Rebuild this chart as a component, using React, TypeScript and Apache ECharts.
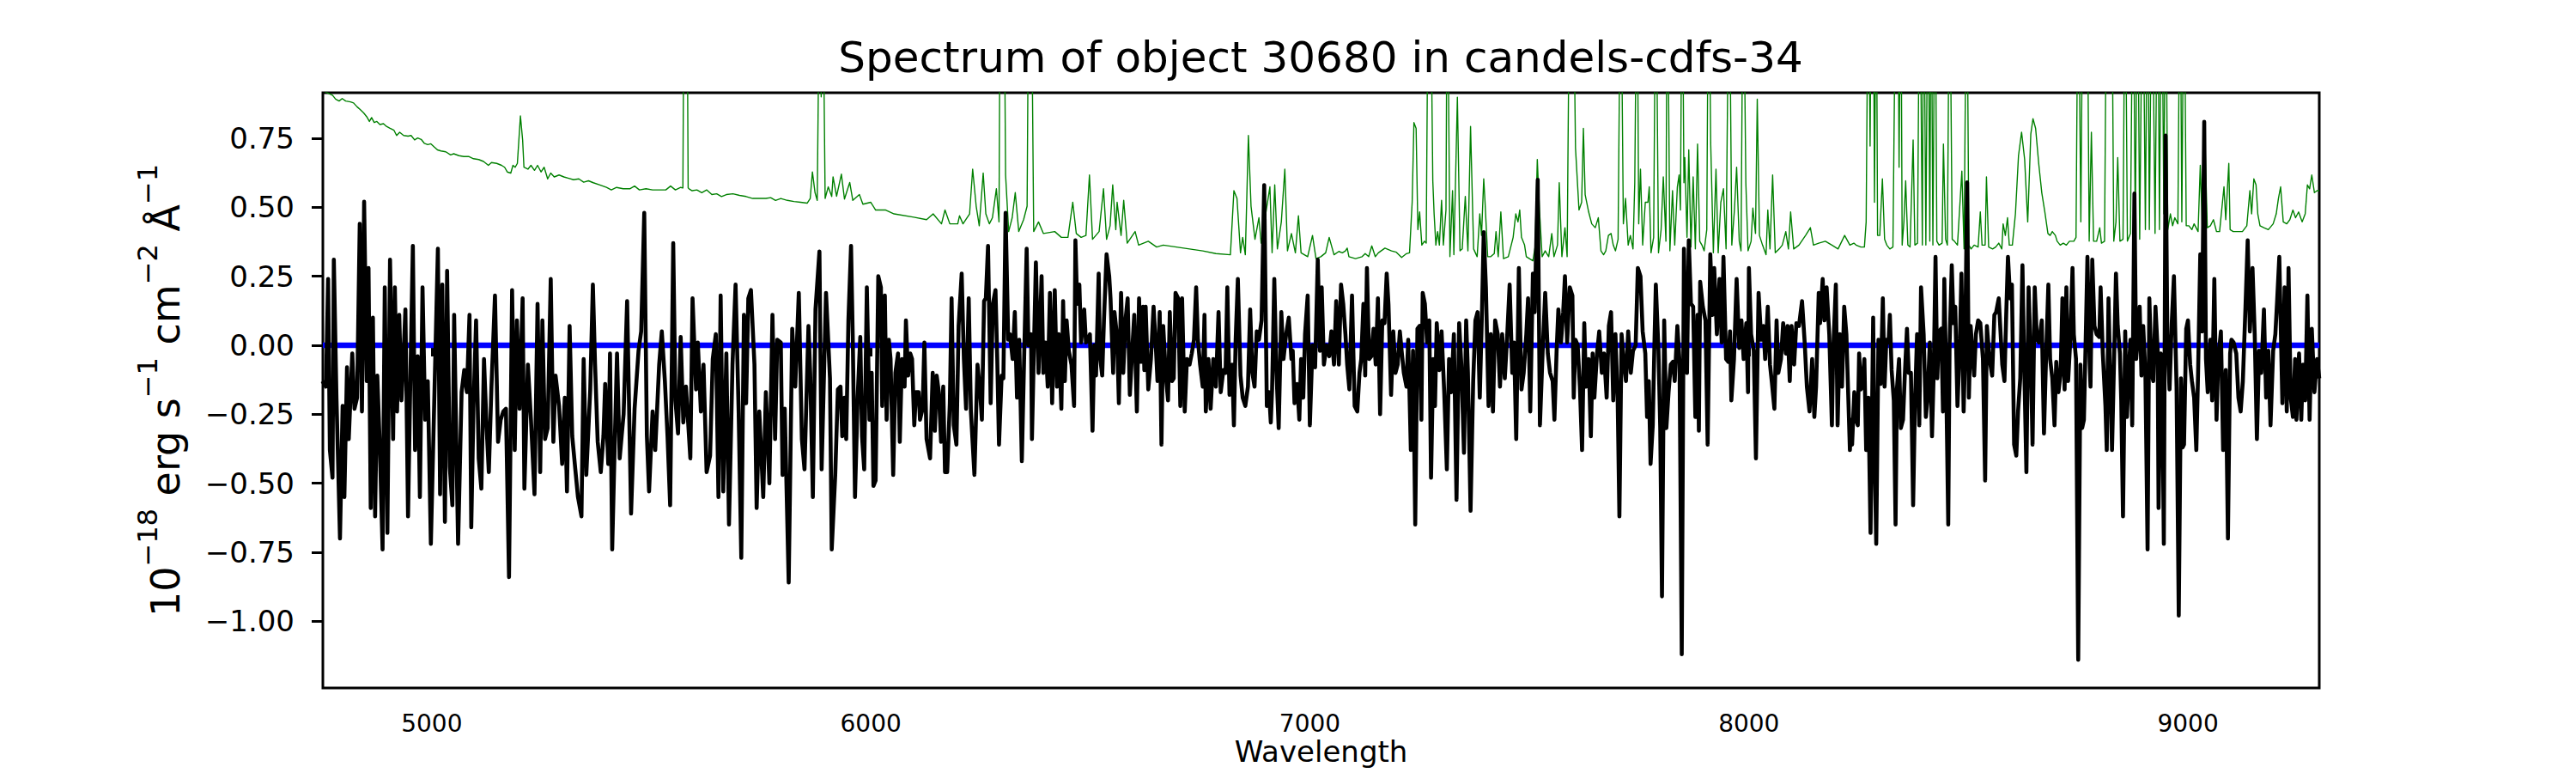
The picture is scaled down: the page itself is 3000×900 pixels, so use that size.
import React, { useEffect, useRef } from "react";
import * as echarts from "echarts";

const TITLE = "Spectrum of object 30680 in candels-cdfs-34";
const X_LABEL = "Wavelength";
const Y_LABEL = "{b|10}{s|−18}{b| erg s}{s|−1}{b| cm}{s|−2}{b| Å}{s|−1}";
const X_TICKS = [5000, 6000, 7000, 8000, 9000];
const Y_TICKS = [-1.0, -0.75, -0.5, -0.25, 0, 0.25, 0.5, 0.75];
const X_RANGE = [4752, 9299];
const Y_RANGE = [-1.242, 0.915];
const ZERO_LEVEL = 0;

// Object flux (black), [wavelength, flux]
const FLUX_A: [number, number][] = [
  [4751,-0.13],[4759,-0.15],[4764,0.24],[4768,-0.38],[4774,-0.48],[4777,0.31],[4783,-0.19],[4791,-0.70],[4797,-0.22],[4801,-0.55],
  [4807,-0.08],[4811,-0.34],[4819,-0.03],[4824,-0.23],[4830,-0.19],[4836,0.44],[4841,-0.24],[4846,0.52],[4852,-0.13],[4856,0.28],
  [4861,-0.59],[4866,0.10],[4871,-0.62],[4876,-0.11],[4882,-0.38],[4888,-0.74],[4893,0.21],[4899,-0.68],[4905,0.31],[4912,-0.34],
  [4916,0.21],[4921,-0.24],[4926,0.11],[4931,-0.20],[4936,-0.03],[4940,0.13],[4946,-0.62],[4951,-0.15],[4957,0.36],[4962,-0.38],
  [4968,-0.04],[4973,-0.55],[4979,0.21],[4985,-0.27],[4991,-0.13],[4998,-0.72],[5008,-0.05],[5014,0.35],[5019,-0.54],[5024,0.22],
  [5030,-0.64],[5035,0.27],[5041,-0.44],[5047,-0.58],[5051,0.11],[5060,-0.72],[5068,-0.17],[5074,-0.09],[5080,-0.17],[5086,0.11],
  [5090,-0.66],[5095,-0.23],[5101,0.09],[5107,-0.41],[5113,-0.52],[5119,-0.05],[5125,-0.30],[5130,-0.46],[5136,-0.15],[5144,0.18],
  [5151,-0.35],[5157,-0.27],[5163,-0.24],[5169,-0.23],[5176,-0.84],[5183,0.20],[5189,-0.38],[5194,0.09],[5200,-0.23],[5207,0.17],
  [5211,-0.52],[5219,-0.07],[5226,-0.27],[5234,-0.54],[5241,0.15],[5247,-0.46],[5252,0.09],[5258,-0.34],[5264,-0.30],[5271,0.24],
  [5277,-0.35],[5282,-0.11],[5290,-0.22],[5297,-0.43],[5303,-0.19],[5308,-0.53],[5314,0.07],[5320,-0.33],[5327,-0.45],[5333,-0.55],
  [5341,-0.62],[5346,-0.05],[5352,-0.47],[5361,-0.16],[5367,0.22],[5372,-0.07],[5378,-0.35],[5385,-0.46],[5391,-0.33],[5395,-0.14],
  [5402,-0.43],[5406,-0.03],[5411,-0.74],[5417,-0.34],[5422,-0.03],[5428,-0.41],[5437,-0.25],[5445,0.16],[5454,-0.61],[5462,-0.23],
  [5471,-0.02],[5477,0.05],[5484,0.48],[5490,-0.33],[5495,-0.53],[5503,-0.24],[5509,-0.38],[5518,-0.07],[5524,0.05],[5531,-0.13],
  [5537,-0.33],[5543,-0.58],[5550,0.37],[5555,-0.20],[5561,-0.32],[5567,0.03],[5573,-0.28],[5579,-0.15],[5589,-0.41],[5594,0.17],
  [5602,-0.16],[5606,0.01],[5613,-0.24],[5619,-0.07],[5626,-0.46],[5634,-0.40],[5640,-0.05],[5647,0.04],[5653,-0.55],[5658,0.18],
  [5664,-0.53],[5671,-0.03],[5677,-0.65],[5685,-0.07],[5692,0.22],[5699,-0.24],[5705,-0.77],[5711,0.11],[5716,-0.21],[5721,0.17],
  [5727,0.20],[5735,-0.07],[5740,-0.59],[5746,-0.24],[5755,-0.55],[5761,-0.17],[5769,-0.50],[5776,0.11],[5782,-0.34],[5787,0.02],
  [5795,0.01],[5799,-0.47],[5804,-0.23],[5813,-0.86],[5821,0.06],[5828,-0.15],[5836,0.19],[5843,-0.34],[5849,-0.45],[5858,0.07],
  [5862,-0.10],[5868,-0.55],[5874,0.13],[5883,0.34],[5888,-0.45],[5898,0.19],[5907,-0.12],[5911,-0.74],
];
const FLUX_B: [number, number][] = [
  [5919,-0.47],[5925,-0.16],[5931,-0.15],[5935,-0.33],[5940,-0.19],[5944,-0.34],[5949,0.09],[5955,0.36],[5959,0.02],[5964,-0.55],
  [5970,-0.19],[5976,0.03],[5980,-0.33],[5985,-0.45],[5991,0.21],[5997,-0.27],[6002,-0.10],[6006,-0.51],[6011,-0.49],[6017,0.25],
  [6023,0.21],[6026,-0.22],[6032,0.18],[6036,-0.27],[6041,0.02],[6045,-0.05],[6051,-0.47],[6056,-0.10],[6062,-0.03],[6066,-0.35],
  [6071,-0.05],[6077,-0.15],[6080,0.09],[6085,-0.11],[6090,-0.03],[6094,-0.05],[6099,-0.29],[6103,-0.17],[6109,-0.17],[6112,-0.27],
  [6118,-0.23],[6122,0.01],[6127,-0.34],[6135,-0.41],[6141,-0.10],[6146,-0.31],[6150,-0.11],[6155,-0.17],[6160,-0.35],[6165,-0.15],
  [6169,-0.46],[6174,-0.46],[6180,-0.21],[6184,0.17],[6189,-0.29],[6195,-0.36],[6200,0.07],[6207,0.26],[6212,-0.05],[6217,-0.23],
  [6223,0.17],[6228,-0.24],[6236,-0.47],[6243,-0.07],[6249,-0.17],[6253,-0.27],[6258,0.16],[6262,0.17],[6267,0.36],[6273,-0.21],
  [6278,0.15],[6284,0.20],[6288,-0.05],[6292,-0.36],[6298,-0.11],[6302,-0.12],[6307,0.48],[6313,0.02],[6317,0.04],[6323,-0.05],
  [6328,0.12],[6333,-0.19],[6338,0.02],[6344,-0.42],[6350,0.01],[6355,0.35],[6359,0.00],[6365,0.04],[6367,-0.34],[6371,-0.05],
  [6376,0.30],[6382,-0.10],[6389,0.25],[6393,-0.10],[6398,0.01],[6403,-0.15],[6408,0.19],[6413,-0.21],[6419,0.20],[6424,-0.15],
  [6428,0.04],[6434,-0.23],[6438,0.16],[6442,-0.13],[6446,0.09],[6451,-0.02],[6457,-0.07],[6463,-0.22],[6466,0.38],[6470,0.15],
  [6475,0.22],[6479,0.01],[6486,0.13],[6490,0.01],[6495,0.02],[6499,0.04],[6505,-0.31],[6509,0.00],[6513,-0.11],[6519,0.26],
  [6522,-0.04],[6527,-0.11],[6531,0.09],[6537,0.33],[6543,0.25],[6546,0.17],[6552,-0.10],[6555,0.12],[6561,0.03],[6565,-0.21],
  [6570,0.19],[6575,-0.10],[6580,0.09],[6585,0.17],[6590,-0.18],[6595,-0.03],[6600,0.11],[6606,-0.24],[6611,0.17],[6615,-0.06],
  [6620,0.14],[6623,-0.09],[6626,0.14],[6632,-0.16],[6638,-0.05],[6644,0.14],[6649,0.00],[6653,-0.13],[6658,0.12],[6662,-0.36],
  [6666,0.07],[6670,-0.05],[6673,-0.13],[6677,-0.20],[6681,0.12],[6686,-0.13],[6690,-0.12],[6694,0.19],[6700,0.17],[6705,-0.22],
  [6709,0.17],[6715,-0.24],[6720,-0.05],[6726,-0.07],[6731,-0.03],[6736,0.02],[6741,0.21],[6745,0.02],[6750,-0.07],[6756,-0.15],
  [6760,0.11],[6763,-0.24],[6769,-0.05],[6774,-0.23],[6780,-0.05],[6786,-0.15],[6792,0.12],[6797,-0.17],[6803,-0.09],[6808,-0.10],
  [6812,0.21],[6817,-0.18],[6823,-0.07],[6827,-0.29],[6831,0.02],[6836,0.24],[6842,-0.11],[6847,-0.19],[6853,-0.22],[6859,-0.15],
  [6864,0.13],[6869,-0.10],[6874,-0.15],[6879,0.05],[6884,0.02],[6890,0.09],[6896,0.58],[6902,-0.22],[6907,-0.17],[6911,-0.28],
  [6914,-0.16],[6919,0.24],[6924,-0.10],[6929,-0.30],[6935,0.12],[6940,-0.05],[6946,0.04],[6952,0.10],[6958,-0.05],[6961,-0.02],
  [6965,-0.21],[6971,-0.14],[6976,-0.27],[6980,-0.05],[6985,-0.19],[6989,0.04],[6995,0.18],[7000,-0.29],[7006,0.00],[7012,-0.08],
  [7018,0.31],[7023,-0.02],[7027,0.21],[7032,-0.07],[7038,0.00],[7044,-0.04],[7049,0.05],[7055,-0.07],[7060,0.16],[7066,-0.07],
  [7071,0.22],[7076,0.15],
];
const FLUX_C: [number, number][] = [
  [7081,0.04],[7085,-0.07],[7090,-0.16],[7096,0.18],[7102,-0.22],[7108,-0.24],[7113,-0.10],[7117,-0.05],[7122,0.15],[7126,-0.11],
  [7130,0.28],[7135,-0.05],[7140,-0.04],[7145,0.06],[7150,-0.07],[7155,0.17],[7160,-0.25],[7165,0.09],[7170,0.08],[7175,0.26],
  [7179,0.15],[7185,-0.18],[7190,0.05],[7195,-0.10],[7200,-0.07],[7205,0.05],[7209,-0.02],[7214,-0.10],[7220,-0.15],[7224,0.02],
  [7230,-0.38],[7235,-0.02],[7240,-0.65],[7245,0.06],[7250,0.07],[7254,-0.27],[7257,0.19],[7262,0.15],[7267,0.01],[7272,0.09],
  [7276,-0.48],[7281,-0.05],[7285,-0.22],[7289,0.08],[7295,-0.09],[7300,0.05],[7306,-0.17],[7312,-0.45],[7317,-0.05],[7322,-0.17],
  [7328,0.04],[7334,-0.56],[7340,0.08],[7345,-0.07],[7351,-0.39],[7356,0.09],[7360,-0.10],[7366,-0.60],[7372,-0.13],[7377,0.09],
  [7382,0.12],[7387,-0.19],[7392,0.12],[7396,0.41],[7401,0.21],[7407,-0.22],[7412,0.04],[7417,-0.24],[7422,0.09],[7428,0.04],
  [7433,-0.15],[7438,0.04],[7444,-0.12],[7449,0.02],[7455,0.22],[7461,-0.10],[7465,0.01],[7470,-0.34],[7476,0.28],[7482,-0.16],
  [7487,-0.10],[7493,0.04],[7497,0.17],[7502,-0.24],[7508,0.26],[7512,0.12],[7519,0.60],[7524,-0.29],[7530,-0.03],[7536,0.19],
  [7542,-0.03],[7547,-0.10],[7553,-0.13],[7557,-0.27],[7562,-0.02],[7566,0.13],[7572,0.01],[7577,0.12],[7581,0.25],[7586,0.01],
  [7592,0.21],[7598,0.18],[7601,-0.19],[7605,0.02],[7610,0.00],[7615,-0.15],[7620,-0.38],[7625,0.08],[7629,-0.15],[7635,-0.05],
  [7640,-0.33],[7644,-0.03],[7648,-0.19],[7654,-0.03],[7659,0.05],[7665,-0.10],[7670,-0.03],[7676,-0.19],[7681,0.07],[7686,0.12],
  [7691,-0.20],[7696,0.04],[7701,-0.19],[7705,-0.62],[7710,0.04],[7715,-0.06],[7720,-0.13],[7725,0.05],[7731,-0.10],[7736,-0.02],
  [7742,0.00],[7747,0.28],[7753,0.25],[7758,0.05],[7764,-0.03],[7768,-0.26],[7772,-0.13],[7776,-0.43],[7781,-0.29],[7785,0.02],
  [7788,0.22],[7794,-0.02],[7798,-0.30],[7802,-0.91],[7807,0.09],[7812,-0.30],[7817,-0.17],[7822,-0.07],[7827,-0.06],[7831,-0.13],
  [7837,0.07],[7842,-0.06],[7847,-1.12],[7852,0.35],[7856,0.02],[7859,-0.10],[7863,0.38],[7868,0.15],[7873,0.14],[7878,-0.26],
  [7883,0.11],[7886,-0.31],[7889,0.23],[7895,0.14],[7901,0.09],[7906,-0.36],[7912,0.33],[7917,0.11],[7921,0.28],[7927,0.04],
  [7933,0.24],[7938,0.01],[7942,0.32],[7948,-0.05],[7953,-0.06],[7957,0.05],[7960,-0.20],[7966,-0.05],[7972,0.24],[7978,-0.01],
  [7983,0.09],[7988,-0.05],[7994,0.08],[7998,-0.17],[8000,0.28],[8005,0.04],[8011,-0.02],[8016,-0.41],[8022,0.19],[8028,0.02],
  [8033,0.07],[8037,-0.05],[8043,0.14],[8048,-0.07],[8052,-0.13],[8058,-0.23],[8063,0.09],[8067,-0.10],[8073,-0.05],[8078,0.08],
  [8084,-0.03],[8088,0.07],[8093,-0.13],[8097,0.07],[8103,-0.07],[8108,0.08],[8114,0.07],[8121,0.16],[8127,0.01],[8132,-0.15],
  [8138,-0.24],[8144,-0.05],[8149,-0.26],[8153,-0.15],[8159,0.19],[8162,0.08],[8168,0.24],[8172,0.09],[8177,0.21],[8183,0.04],
  [8189,-0.29],[8192,-0.02],[8198,0.22],[8202,-0.29],[8207,0.04],[8212,-0.15],[8217,0.14],[8222,0.04],[8230,-0.38],
];
const FLUX_D: [number, number][] = [
  [8233,-0.27],[8235,-0.36],[8240,-0.17],[8244,-0.27],[8248,-0.29],[8251,-0.03],[8255,-0.16],[8258,-0.15],[8263,-0.05],[8267,-0.38],
  [8272,-0.19],[8277,-0.68],[8283,0.10],[8286,-0.38],[8290,-0.72],[8295,0.02],[8300,-0.14],[8305,0.17],[8309,-0.15],[8313,0.02],
  [8318,0.01],[8321,0.11],[8325,-0.09],[8330,-0.20],[8334,-0.65],[8337,-0.16],[8342,-0.05],[8346,-0.30],[8351,-0.27],[8355,-0.11],
  [8360,0.06],[8364,-0.10],[8369,-0.10],[8374,-0.58],[8378,-0.22],[8383,0.04],[8388,-0.29],[8392,0.21],[8398,0.04],[8403,-0.26],
  [8407,-0.19],[8412,0.01],[8417,-0.33],[8421,-0.09],[8425,0.32],[8429,-0.12],[8433,0.05],[8438,0.06],[8442,-0.24],[8445,0.24],
  [8449,-0.09],[8454,-0.65],[8457,0.00],[8462,0.29],[8466,0.08],[8470,0.14],[8475,-0.22],[8480,-0.02],[8484,0.26],[8489,-0.24],
  [8492,-0.06],[8497,0.59],[8501,-0.19],[8505,0.07],[8510,-0.05],[8513,-0.11],[8517,0.04],[8522,0.09],[8527,0.08],[8533,-0.05],
  [8538,-0.49],[8542,0.07],[8548,-0.05],[8554,-0.11],[8559,0.11],[8563,0.12],[8569,0.17],[8574,0.02],[8577,-0.07],[8582,-0.13],
  [8586,0.11],[8590,0.32],[8595,0.17],[8599,0.22],[8604,-0.36],[8609,-0.40],[8613,-0.24],[8618,-0.12],[8623,0.29],[8627,-0.07],
  [8632,-0.46],[8637,0.21],[8642,-0.05],[8646,-0.36],[8651,0.21],[8656,0.02],[8661,0.01],[8667,0.09],[8672,-0.32],[8677,-0.03],
  [8682,0.22],[8686,-0.05],[8691,-0.12],[8696,-0.29],[8700,-0.06],[8705,-0.17],[8710,-0.10],[8714,0.17],[8719,-0.16],[8723,0.21],
  [8727,-0.13],[8732,0.02],[8737,0.28],[8740,0.04],[8745,-0.05],[8750,-1.14],[8755,-0.07],[8759,-0.30],[8763,-0.27],[8768,0.09],
  [8771,0.32],[8776,-0.06],[8778,-0.15],[8782,0.31],[8787,0.07],[8792,0.04],[8798,0.03],[8801,0.21],[8806,-0.03],[8812,-0.22],
  [8815,-0.38],[8819,0.17],[8822,-0.05],[8827,-0.38],[8832,-0.03],[8836,0.26],[8840,0.07],[8845,-0.03],[8848,-0.20],[8852,-0.62],
  [8857,0.05],[8861,-0.26],[8866,-0.07],[8869,0.02],[8873,-0.29],[8878,0.55],[8882,-0.05],[8887,0.05],[8890,0.14],[8894,-0.11],
  [8898,0.07],[8903,-0.10],[8908,-0.74],[8912,0.17],[8917,-0.10],[8921,-0.13],[8926,0.14],[8931,-0.02],[8933,-0.59],[8938,-0.03],
  [8941,-0.05],[8945,-0.72],[8949,0.76],[8953,0.04],[8958,-0.16],[8963,0.08],[8968,0.25],[8974,-0.15],[8979,-0.98],[8984,-0.12],
  [8988,-0.37],[8991,-0.36],[8996,0.06],[9000,0.09],[9005,-0.07],[9009,-0.13],[9014,-0.19],[9019,-0.38],[9023,-0.10],[9028,0.33],
  [9032,0.05],[9037,0.81],[9041,-0.05],[9045,-0.17],[9051,0.02],[9055,-0.20],[9060,0.24],[9065,-0.27],[9069,-0.05],[9075,0.05],
  [9080,-0.38],[9086,-0.09],[9091,-0.70],[9096,-0.03],[9099,0.02],[9104,0.01],[9110,-0.03],[9115,-0.19],[9120,-0.24],[9125,-0.13],
  [9131,0.14],[9136,0.38],[9141,0.05],[9147,0.28],[9152,0.04],[9157,-0.34],[9162,-0.02],[9167,-0.10],[9173,0.13],[9178,-0.19],
  [9183,-0.02],[9188,-0.29],[9194,-0.02],[9199,0.04],[9203,0.16],[9208,0.32],[9211,0.09],[9215,-0.21],[9220,0.21],[9225,-0.24],
  [9229,0.28],[9234,-0.19],[9239,-0.26],[9244,-0.05],[9247,-0.27],[9253,-0.03],[9258,-0.27],[9262,-0.07],[9267,-0.20],[9272,0.18],
  [9277,-0.27],[9282,0.06],[9288,-0.17],[9294,-0.05],[9299,-0.12],
];

// Sky / error spectrum (green), [wavelength, value]; values above the frame are clipped
const SKY_A: [number, number][] = [
  [4755,0.92],[4774,0.906],[4781,0.892],[4789,0.885],[4796,0.894],[4804,0.885],[4815,0.882],[4822,0.878],[4830,0.864],[4837,0.854],
  [4845,0.842],[4852,0.828],[4858,0.811],[4863,0.825],[4869,0.807],[4875,0.811],[4882,0.8],[4890,0.803],[4897,0.793],[4905,0.786],
  [4914,0.779],[4920,0.76],[4927,0.772],[4936,0.76],[4946,0.758],[4953,0.76],[4961,0.744],[4968,0.751],[4976,0.746],[4983,0.732],
  [4991,0.727],[4998,0.73],[5006,0.718],[5013,0.708],[5021,0.704],[5032,0.701],[5043,0.69],[5050,0.694],[5062,0.687],[5073,0.684],
  [5084,0.684],[5095,0.676],[5107,0.673],[5118,0.666],[5129,0.652],[5136,0.662],[5148,0.659],[5159,0.652],[5166,0.645],[5172,0.628],
  [5180,0.624],[5185,0.652],[5190,0.645],[5195,0.659],[5202,0.831],[5207,0.744],[5210,0.645],[5219,0.638],[5226,0.652],[5234,0.634],
  [5241,0.652],[5249,0.628],[5256,0.645],[5264,0.603],[5271,0.624],[5279,0.61],[5290,0.617],[5301,0.61],[5312,0.605],[5323,0.6],
  [5335,0.603],[5346,0.591],[5357,0.596],[5368,0.589],[5383,0.581],[5398,0.572],[5409,0.563],[5421,0.572],[5436,0.567],[5451,0.567],
  [5462,0.577],[5473,0.563],[5488,0.567],[5503,0.563],[5518,0.563],[5533,0.563],[5544,0.577],[5555,0.563],[5567,0.572],[5572,0.57],
  [5575,1.5],[5581,1.5],[5584,0.57],[5586,0.567],[5593,0.56],[5604,0.563],[5615,0.553],[5626,0.563],[5638,0.546],[5649,0.549],
  [5660,0.539],[5671,0.546],[5686,0.549],[5701,0.543],[5716,0.539],[5731,0.532],[5746,0.532],[5761,0.532],[5772,0.535],[5783,0.525],
  [5795,0.532],[5810,0.525],[5825,0.521],[5840,0.518],[5855,0.515],[5862,0.532],[5867,0.628],[5873,0.553],[5878,0.525],[5884,1.5],
  [5887,0.9],[5890,1.5],[5896,0.532],[5903,0.574],[5911,0.539],
];
const SKY_B: [number, number][] = [
  [5914,0.61],[5922,0.54],[5933,0.62],[5940,0.53],[5952,0.59],[5959,0.525],[5974,0.546],[5982,0.511],[6000,0.518],[6011,0.49],
  [6034,0.49],[6053,0.476],[6098,0.464],[6127,0.455],[6142,0.476],[6161,0.44],[6169,0.49],[6180,0.44],[6198,0.44],[6202,0.469],
  [6210,0.44],[6225,0.476],[6232,0.638],[6240,0.504],[6247,0.433],[6256,0.624],[6262,0.476],[6270,0.44],[6277,0.462],[6286,0.567],
  [6292,0.447],[6295,1.5],[6303,1.5],[6307,0.617],[6314,0.412],[6322,0.462],[6329,0.553],[6337,0.412],[6348,0.455],[6356,0.504],
  [6360,1.5],[6365,1.5],[6371,0.412],[6382,0.447],[6393,0.405],[6419,0.412],[6434,0.391],[6449,0.391],[6460,0.518],[6468,0.405],
  [6479,0.391],[6490,0.398],[6498,0.617],[6505,0.384],[6520,0.412],[6530,0.567],[6537,0.384],[6545,0.433],[6551,0.581],[6558,0.419],
  [6561,0.518],[6570,0.398],[6576,0.525],[6584,0.37],[6602,0.412],[6610,0.363],[6632,0.377],[6651,0.356],[6666,0.363],[6696,0.356],
  [6726,0.349],[6756,0.342],[6786,0.332],[6819,0.328],[6827,0.56],[6834,0.532],[6842,0.335],[6847,0.391],[6853,0.328],[6860,0.76],
  [6866,0.504],[6875,0.384],[6884,0.462],[6889,0.37],[6898,0.462],[6909,0.574],[6914,0.335],[6920,0.581],[6926,0.349],[6935,0.447],
  [6943,0.638],[6949,0.342],[6958,0.405],[6967,0.335],[6974,0.469],[6980,0.335],[6995,0.321],[7006,0.398],[7014,0.314],[7025,0.321],
  [7036,0.335],[7044,0.391],[7055,0.328],[7066,0.34],
];
const SKY_C: [number, number][] = [
  [7074,0.335],[7081,0.342],[7085,0.352],[7089,0.321],[7104,0.314],[7119,0.321],[7126,0.332],[7134,0.321],[7141,0.36],[7149,0.321],
  [7156,0.335],[7171,0.352],[7186,0.342],[7197,0.337],[7209,0.318],[7220,0.332],[7227,0.335],[7233,0.518],[7237,0.807],[7242,0.786],
  [7246,0.419],[7250,0.483],[7255,0.363],[7261,0.377],[7265,0.37],[7270,1.5],[7274,1.5],[7280,0.596],[7283,0.476],[7287,0.363],
  [7291,0.412],[7295,0.363],[7300,0.525],[7304,0.363],[7310,0.49],[7313,1.5],[7319,0.321],[7325,0.56],[7328,0.328],[7336,0.899],
  [7342,0.342],[7347,0.349],[7354,0.539],[7360,0.342],[7366,0.793],[7373,0.349],[7381,0.321],[7387,0.476],[7391,0.398],[7396,0.603],
  [7399,0.518],[7405,0.321],[7412,0.321],[7420,0.332],[7424,0.412],[7429,0.321],[7435,0.483],[7441,0.314],[7452,0.321],[7463,0.391],
  [7469,0.476],[7474,0.447],[7478,0.49],[7482,0.391],[7489,0.363],[7493,0.321],[7500,0.314],[7508,0.306],[7513,0.356],[7518,0.673],
  [7523,0.49],[7529,0.321],[7536,0.342],[7544,0.321],[7551,0.405],[7556,0.321],[7564,0.363],[7568,0.589],[7574,0.321],[7581,0.426],
  [7586,0.321],[7592,1.5],[7599,1.5],[7605,0.715],[7613,0.49],[7619,0.518],[7623,0.786],[7627,0.546],[7635,0.483],[7642,0.44],
  [7650,0.426],[7657,0.462],[7663,0.342],[7669,0.328],[7674,0.342],[7680,0.398],[7686,0.405],[7691,0.363],[7696,0.342],[7702,0.384],
  [7708,1.5],[7714,0.44],[7719,0.532],[7725,0.363],[7730,0.398],[7736,0.349],[7740,0.589],[7745,1.5],[7749,0.44],[7753,0.638],
  [7758,0.363],[7764,0.518],[7770,0.518],[7773,0.574],[7777,0.335],[7783,0.391],[7788,1.5],[7794,0.335],[7800,0.419],[7805,0.61],
  [7811,0.377],[7814,1.5],[7820,0.342],[7826,0.56],[7831,0.363],[7837,0.574],[7841,0.617],[7844,0.49],[7848,1.5],[7852,0.589],
  [7854,0.68],[7859,0.391],[7863,0.708],[7868,0.356],[7873,0.61],[7878,0.349],[7883,0.729],[7888,0.377],[7893,0.363],[7898,0.342],
  [7904,0.419],[7908,1.5],[7913,0.729],[7919,0.335],[7925,0.638],[7930,0.335],[7936,0.518],[7942,0.567],[7948,0.349],[7955,1.5],
  [7961,0.363],[7967,0.49],[7972,0.645],[7978,0.377],[7982,0.342],[7987,1.5],[7993,0.589],[7998,0.342],[8005,0.377],[8009,0.497],
  [8015,0.405],[8019,0.892],[8024,0.398],[8031,0.363],[8039,0.328],[8043,0.49],[8048,0.349],[8054,0.617],[8060,0.335],[8069,0.349],
  [8076,0.363],[8084,0.412],[8090,0.349],[8095,0.483],[8102,0.349],[8114,0.363],[8129,0.398],[8140,0.426],[8147,0.363],[8159,0.37],
  [8174,0.377],[8189,0.363],[8203,0.349],[8218,0.398],[8230,0.363],[8239,0.37],
];
const SKY_D: [number, number][] = [
  [8244,0.363],[8255,0.356],[8263,0.356],[8267,0.447],[8272,1.5],[8276,0.722],[8279,1.5],[8283,1.5],[8286,0.518],[8290,1.5],
  [8293,0.398],[8298,0.398],[8304,0.603],[8309,0.384],[8314,0.363],[8321,0.349],[8328,0.356],[8335,1.5],[8339,1.5],[8342,0.645],
  [8346,1.5],[8349,0.363],[8353,0.447],[8357,0.596],[8362,0.363],[8367,0.356],[8374,0.744],[8378,0.363],[8384,0.37],[8389,1.5],
  [8395,0.363],[8398,1.5],[8403,0.363],[8408,1.5],[8412,0.377],[8415,1.5],[8419,0.363],[8424,1.5],[8428,0.377],[8433,0.363],
  [8440,0.37],[8443,0.729],[8448,0.384],[8452,0.363],[8457,1.5],[8463,0.384],[8468,0.377],[8475,0.363],[8485,0.631],[8490,0.349],
  [8496,1.5],[8501,0.363],[8506,0.349],[8513,0.363],[8522,0.356],[8527,0.483],[8531,0.363],[8538,0.363],[8541,0.61],[8546,0.356],
  [8555,0.349],[8562,0.356],[8569,0.37],[8576,0.349],[8579,0.44],[8584,0.398],[8589,0.462],[8593,0.363],[8600,0.363],[8607,0.476],
  [8614,0.687],[8621,0.772],[8628,0.673],[8635,0.447],[8642,0.765],[8647,0.821],[8653,0.786],[8660,0.659],[8667,0.553],[8674,0.483],
  [8681,0.405],[8686,0.398],[8691,0.412],[8698,0.398],[8702,0.377],[8709,0.363],[8716,0.37],[8723,0.363],[8730,0.377],[8740,0.377],
  [8745,0.391],[8750,1.5],[8756,0.447],[8761,1.5],[8766,1.5],[8770,1.5],[8775,0.377],[8780,0.772],[8785,0.377],[8792,0.377],
  [8799,0.426],[8803,0.37],[8810,0.377],[8815,1.5],[8820,1.5],[8826,1.5],[8831,0.377],[8836,0.447],[8840,0.68],[8845,0.377],
  [8852,0.384],[8857,1.5],[8862,0.377],[8869,0.405],[8875,1.5],[8880,0.405],[8885,1.5],[8890,0.384],[8897,1.5],[8903,0.419],
  [8908,1.5],[8912,0.419],[8918,1.5],[8925,0.405],[8931,1.5],[8935,0.419],[8940,1.5],[8945,0.476],[8949,1.5],[8954,0.419],
  [8960,0.476],[8965,0.433],[8970,0.462],[8977,0.44],[8982,1.5],[8986,0.447],[8991,1.5],[8996,0.433],[9002,0.433],[9009,0.419],
  [9014,0.44],[9023,0.412],[9028,0.652],[9033,0.405],[9038,0.786],[9044,0.426],[9051,0.433],[9058,0.455],[9065,0.412],[9072,0.412],
  [9082,0.574],[9086,0.455],[9093,0.659],[9096,0.419],[9103,0.412],[9113,0.412],[9124,0.412],[9134,0.433],[9141,0.56],[9145,0.476],
  [9150,0.603],[9155,0.581],[9159,0.476],[9164,0.433],[9173,0.426],[9183,0.419],[9194,0.44],[9201,0.476],[9206,0.532],[9211,0.574],
  [9217,0.447],[9225,0.44],[9232,0.455],[9239,0.49],[9245,0.462],[9252,0.483],[9260,0.447],[9267,0.476],[9272,0.581],[9277,0.567],
  [9282,0.617],[9288,0.553],[9294,0.56],[9299,0.56],
];

const FONT = "DejaVu Sans";

function fmtY(v: number): string {
  const s = Math.abs(v).toFixed(2);
  return v < 0 ? "\u2212" + s : s;
}

export default function App() {
  const ref = useRef<HTMLDivElement>(null);
  useEffect(() => {
    if (!ref.current) return;
    const chart = echarts.init(ref.current, null, { renderer: "svg" });
    const flux = [...FLUX_A, ...FLUX_B, ...FLUX_C, ...FLUX_D];
    const sky = [...SKY_A, ...SKY_B, ...SKY_C, ...SKY_D];
    chart.setOption({
      animation: false,
      backgroundColor: "#ffffff",
      textStyle: { fontFamily: FONT },
      grid: {
        left: 376,
        right: 299,
        top: 108,
        bottom: 99,
        show: true,
        borderColor: "#000",
        borderWidth: 3,
        backgroundColor: "transparent",
        containLabel: false,
        outerBoundsMode: "none",
      },
      graphic: [
        {
          type: "text",
          x: 1538,
          y: 67,
          style: {
            text: TITLE,
            fontSize: 50,
            fontFamily: FONT,
            fill: "#000",
            textAlign: "center",
            textVerticalAlign: "middle",
            align: "center",
            verticalAlign: "middle",
          },
        },
      ],
      xAxis: {
        type: "value",
        min: X_RANGE[0],
        max: X_RANGE[1],
        axisLine: { show: false },
        splitLine: { show: false },
        axisTick: {
          show: true,
          length: 13,
          customValues: X_TICKS,
          lineStyle: { color: "#000", width: 3 },
        },
        axisLabel: {
          customValues: X_TICKS,
          fontSize: 28,
          fontFamily: FONT,
          color: "#000",
          margin: 27,
          formatter: (v: number) => String(v),
        },
        name: X_LABEL,
        nameLocation: "middle",
        nameGap: 57,
        nameMoveOverlap: false,
        nameTextStyle: { fontSize: 34, fontFamily: FONT, color: "#000" },
      },
      yAxis: {
        type: "value",
        min: Y_RANGE[0],
        max: Y_RANGE[1],
        axisLine: { show: false },
        splitLine: { show: false },
        axisTick: {
          show: true,
          length: 13,
          customValues: Y_TICKS,
          lineStyle: { color: "#000", width: 3 },
        },
        axisLabel: {
          customValues: Y_TICKS,
          fontSize: 34,
          fontFamily: FONT,
          color: "#000",
          margin: 33,
          formatter: (v: number) => fmtY(v),
        },
        name: Y_LABEL,
        nameLocation: "middle",
        nameRotate: 90,
        nameGap: 160,
        nameMoveOverlap: false,
        nameTextStyle: {
          color: "#000",
          fontFamily: FONT,
          rich: {
            b: { fontSize: 46, fontFamily: FONT, color: "#000", lineHeight: 60, verticalAlign: "bottom" },
            s: { fontSize: 32, fontFamily: FONT, color: "#000", lineHeight: 26, verticalAlign: "top" },
          },
        },
      },
      series: [
        {
          name: "sky",
          type: "line",
          data: sky,
          showSymbol: false,
          symbol: "none",
          clip: true,
          z: 1,
          lineStyle: { color: "#008000", width: 1.4, join: "round" },
          silent: true,
        },
        {
          name: "zero",
          type: "line",
          data: [
            [X_RANGE[0], ZERO_LEVEL],
            [X_RANGE[1], ZERO_LEVEL],
          ],
          showSymbol: false,
          symbol: "none",
          clip: true,
          z: 2,
          lineStyle: { color: "#0000ff", width: 6.5 },
          silent: true,
        },
        {
          name: "flux",
          type: "line",
          data: flux,
          showSymbol: false,
          symbol: "none",
          clip: true,
          z: 3,
          lineStyle: { color: "#000000", width: 4.6, join: "round" },
          silent: true,
        },
      ],
    });
    return () => chart.dispose();
  }, []);
  return (
    <div
      ref={ref}
      style={{ position: "fixed", left: 0, top: 0, width: 3000, height: 900, background: "#fff" }}
    />
  );
}
